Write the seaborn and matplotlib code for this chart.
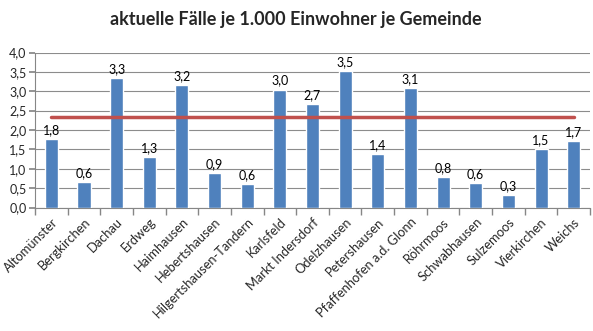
import matplotlib
matplotlib.use("Agg")
import matplotlib.pyplot as plt
import seaborn as sns
import pandas as pd
import numpy as np

gemeinden = ["Altomünster", "Bergkirchen", "Dachau", "Erdweg", "Haimhausen",
             "Hebertshausen", "Hilgertshausen-Tandern", "Karlsfeld", "Markt Indersdorf",
             "Odelzhausen", "Petershausen", "Pfaffenhofen a.d. Glonn", "Röhrmoos",
             "Schwabhausen", "Sulzemoos", "Vierkirchen", "Weichs"]
faelle = [1.76, 0.65, 3.34, 1.30, 3.16, 0.88, 0.60, 3.04, 2.67, 3.52, 1.38, 3.08,
          0.79, 0.63, 0.32, 1.51, 1.71]
labels = ["1,8", "0,6", "3,3", "1,3", "3,2", "0,9", "0,6", "3,0", "2,7", "3,5", "1,4",
          "3,1", "0,8", "0,6", "0,3", "1,5", "1,7"]
durchschnitt = 2.34
yticks = [0.0, 0.5, 1.0, 1.5, 2.0, 2.5, 3.0, 3.5, 4.0]
ytick_labels = ["0,0", "0,5", "1,0", "1,5", "2,0", "2,5", "3,0", "3,5", "4,0"]
title = "aktuelle Fälle je 1.000 Einwohner je Gemeinde"

sns.set_theme(style="white")
plt.rcParams['font.family'] = ['Lato', 'DejaVu Sans']

df = pd.DataFrame({"Gemeinde": gemeinden, "Fälle": faelle})

fig = plt.figure(figsize=(5.93, 3.31), dpi=100)
ax = fig.add_axes([35/593, 1 - 207.5/331, 555/593, 155/331])

sns.barplot(data=df, x="Gemeinde", y="Fälle", color="#4F81BD", width=0.4,
            saturation=1, ax=ax, zorder=3)

n = len(gemeinden)
ax.plot([0, n - 1], [durchschnitt, durchschnitt], color="#C0504D", lw=2.5, zorder=4)

for i, (v, lab) in enumerate(zip(faelle, labels)):
    ax.text(i, v + 0.08, lab, ha="center", va="bottom", fontsize=9, color="black", zorder=5)

ax.set_xlim(-0.5, n - 0.5)
ax.set_ylim(0, 4)
ax.set_yticks(yticks)
ax.set_yticklabels(ytick_labels, fontsize=9)
ax.yaxis.grid(True, color="#8c8c8c", lw=0.8, zorder=0)
ax.set_axisbelow(True)

ax.set_xticks(np.arange(n))
ax.set_xticklabels(gemeinden, rotation=45, ha="right", rotation_mode="anchor", fontsize=9.3)
ax.tick_params(axis="x", length=0, pad=6)
ax.set_xticks(np.arange(n + 1) - 0.5, minor=True)
ax.tick_params(axis="x", which="minor", length=5, color="#868686", direction="out", bottom=True)
ax.tick_params(axis="y", length=4, color="#868686", direction="out", left=True, pad=2)

for s in ["top", "right"]:
    ax.spines[s].set_visible(False)
for s in ["left", "bottom"]:
    ax.spines[s].set_color("#868686")
    ax.spines[s].set_linewidth(0.8)

ax.set_xlabel("")
ax.set_ylabel("")

fig.text(296/593, 1 - 20/331, title, ha="center", va="center", fontsize=13, fontweight="bold")

fig.savefig("out.png", dpi=100, facecolor="white")
